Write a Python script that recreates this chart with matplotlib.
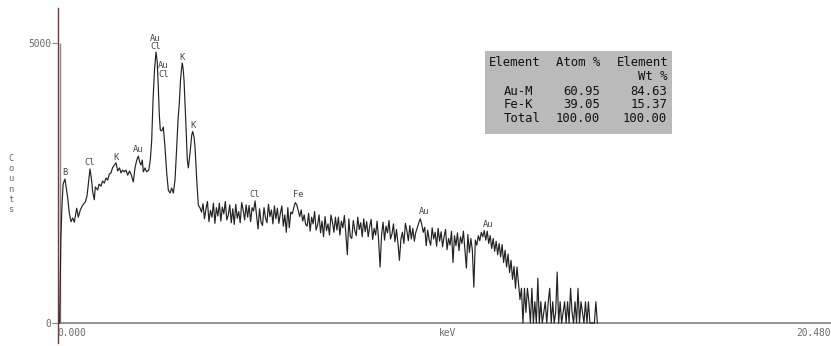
import numpy as np
import matplotlib.pyplot as plt
from matplotlib.patches import Rectangle

# low-energy part of the spectrum (keV, counts)
peak_kev = [0.016, 0.05, 0.08, 0.11, 0.16, 0.23, 0.277, 0.323, 0.368, 0.411,
            0.476, 0.519, 0.573, 0.637, 0.707, 0.753, 0.798, 0.833, 0.868, 0.906,
            0.949, 0.976, 1.04, 1.075, 1.129, 1.17, 1.218, 1.263, 1.309, 1.352,
            1.398, 1.438, 1.487, 1.532, 1.578, 1.626, 1.667, 1.707, 1.755, 1.80,
            1.847, 1.895, 1.935, 1.997, 2.043, 2.089, 2.132, 2.169, 2.204, 2.239,
            2.266, 2.312, 2.352, 2.411, 2.454, 2.492, 2.527, 2.567, 2.608, 2.640,
            2.669, 2.696, 2.723, 2.761, 2.804, 2.849, 2.895, 2.938, 2.984, 3.030,
            3.073, 3.118, 3.164, 3.199, 3.234, 3.266, 3.298, 3.315, 3.339, 3.360,
            3.406, 3.449, 3.476, 3.522, 3.567, 3.594, 3.629, 3.656, 3.702, 3.745,
            3.790, 3.831]
peak_counts = [0, 1500, 2100, 2480, 2570, 2255, 1960, 1810, 1875, 1800,
               2050, 1890, 2020, 2105, 2160, 2270, 2550, 2750, 2590, 2340,
               2200, 2430, 2375, 2480, 2445, 2535, 2500, 2590, 2550, 2660,
               2680, 2770, 2820, 2860, 2715, 2770, 2680, 2730, 2700, 2730,
               2640, 2715, 2660, 2520, 2770, 2910, 2980, 2875, 2820, 2910,
               2700, 2770, 2700, 2730, 2910, 3270, 3980, 4520, 4840, 4660,
               4215, 3715, 3445, 3430, 3500, 3140, 2680, 2375, 2320, 2410,
               2320, 2555, 3140, 3625, 3930, 4340, 4570, 4640, 4520, 4340,
               3625, 2910, 2770, 3035, 3355, 3420, 3320, 3140, 2555, 2105,
               2055, 1980]

# background and high-energy lines, 40 eV channels from 3.87 keV
channel_kev = 0.04
bg_start_kev = 3.87
bg_counts = [2130, 1860, 2040, 2170, 1810, 2010, 1890, 2140, 1780, 2060,
             1910, 2140, 1820, 2070, 1950, 2170, 1840, 1930, 2110, 1790,
             2040, 1760, 2120, 1870, 1990, 1790, 2150, 2020, 1840, 2110,
             1890, 2100, 1810, 2060, 2000, 2180, 1920, 1680, 2040, 1800,
             1740, 2060, 1880, 1790, 2120, 1900, 2020, 1770, 2090, 1860,
             2050, 1780, 1960, 2090, 1730, 1930, 1620, 2060, 1700, 1980,
             1950, 2060, 2150, 2110, 2010, 1900, 2020, 1820, 1930, 1760,
             1730, 1960, 1640, 1890, 1770, 1990, 1660, 1750, 1930, 1610,
             1820, 1540, 1900, 1650, 1770, 1570, 1930, 1800, 1620, 1890,
             1660, 1890, 1570, 1820, 1700, 1920, 1590, 1220, 1860, 1540,
             1510, 1830, 1650, 1560, 1890, 1670, 1790, 1540, 1860, 1630,
             1810, 1540, 1720, 1850, 1490, 1690, 1570, 1820, 1480, 1000,
             1570, 1800, 1480, 1730, 1610, 1830, 1500, 1590, 1770, 1450,
             1670, 1430, 1120, 1500, 1620, 1420, 1780, 1650, 1470, 1740,
             1500, 1690, 1460, 1620, 1700, 1790, 1860, 1760, 1620, 1710,
             1380, 1660, 1480, 1390, 1700, 1500, 1620, 1370, 1690, 1460,
             1630, 1360, 1540, 1670, 1310, 1510, 1390, 1640, 1080, 1560,
             1380, 1610, 1290, 1540, 1420, 1640, 1310, 980, 1580, 1260,
             1510, 1300, 640, 1480, 1390, 1560, 1470, 1620, 1540, 1650,
             1480, 1640, 1420, 1560, 1330, 1510, 1280, 1460, 1220, 1420,
             1180, 1400, 1080, 1300, 1000, 1230, 900, 1120, 780, 1010,
             620, 1000, 700, 420]
# sparse counts above ~12.4 keV
tail_counts = [620, 0, 620, 190, 620, 380, 0, 620,
               0, 380, 0, 800, 0, 380, 0, 190,
               380, 0, 380, 620, 0, 380, 0, 190,
               910, 0, 380, 0, 190, 380, 0, 380,
               0, 620, 190, 0, 380, 0, 620, 0,
               380, 190, 0, 380, 0, 380, 0, 0,
               0, 0, 380, 0]

# peak identifications
label_text = ["B", "Cl", "K", "Au", "Au\nCl", "Au\nCl", "K", "K", "Cl", "Fe", "Au", "Au"]
label_kev = [0.16, 0.83, 1.53, 2.12, 2.59, 2.80, 3.31, 3.60, 5.27, 6.42, 9.81, 11.53]
label_counts = [2680, 2875, 2950, 3090, 5010, 4520, 4750, 3535, 2300, 2300, 2000, 1760]

# quantification result
elements = ["Au-M", "Fe-K", "Total"]
atom_pct = [60.95, 39.05, 100.00]
wt_pct = [84.63, 15.37, 100.00]

W, H = 831, 346
def px(x, y):
    return x / W, 1 - y / H

mono = "DejaVu Sans Mono"
grey = "#6a6a6a"

fig = plt.figure(figsize=(W / 100, H / 100), dpi=100)
ax = fig.add_axes([58 / W, 3 / H, (W - 58) / W, 335 / H])
ax.set_xlim(-0.027, 20.75)
ax.set_ylim(-357, 5625)
for s in ["top", "right", "bottom"]:
    ax.spines[s].set_visible(False)
ax.spines["left"].set_color("#7b3535")
ax.spines["left"].set_linewidth(1.0)

ax.axhline(0, color="#8a8a8a", lw=1.3, zorder=1)
ax.vlines(0.03, 0, 5000, color="#8a8a8a", lw=1.0, zorder=1)

bg_kev = bg_start_kev + channel_kev * np.arange(len(bg_counts))
tail_kev = bg_kev[-1] + channel_kev * (1 + np.arange(len(tail_counts)))

energy = np.concatenate([peak_kev, bg_kev, tail_kev])
counts = np.concatenate([peak_counts, bg_counts, tail_counts])
ax.plot(energy, counts, color="#222222", lw=0.85, zorder=3)

for t, e, c in zip(label_text, label_kev, label_counts):
    ax.text(e, c, t, ha="center", va="center", fontsize=6.3, family=mono,
            color="#444444", linespacing=0.95)

ax.set_xticks([])
ax.set_yticks([0, 5000])
ax.set_yticklabels(["0", "5000"], family=mono, fontsize=6.9, color=grey)
ax.tick_params(axis="y", length=4, width=0.8, color="#8a8a8a", pad=1)

ax.text(-0.04, -180, "0.000", ha="left", va="center", family=mono, fontsize=6.9, color=grey)
ax.text(10.43, -180, "keV", ha="center", va="center", family=mono, fontsize=6.9, color=grey)
ax.text(20.74, -180, "20.480", ha="right", va="center", family=mono, fontsize=6.9, color=grey)

fig.text(*px(11, 184), "\n".join("Counts"), ha="center", va="center", family=mono,
         fontsize=6.3, color=grey, linespacing=1.15)

# results table
x0, y0 = px(485, 134)
x1, y1 = px(672, 51)
fig.patches.append(Rectangle((x0, y0), x1 - x0, y1 - y0, transform=fig.transFigure,
                             facecolor="#bababa", edgecolor="none", zorder=0))
tk = dict(family=mono, fontsize=8.8, color="#111111", va="center")
fig.text(*px(489, 63), "Element", ha="left", **tk)
fig.text(*px(600, 63), "Atom %", ha="right", **tk)
fig.text(*px(669, 63), "Element", ha="right", **tk)
fig.text(*px(667, 77), "Wt %", ha="right", **tk)
for i, (el, a, w) in enumerate(zip(elements, atom_pct, wt_pct)):
    yy = 91 + 14 * i
    fig.text(*px(504, yy), el, ha="left", **tk)
    fig.text(*px(600, yy), "{:.2f}".format(a), ha="right", **tk)
    fig.text(*px(667, yy), "{:.2f}".format(w), ha="right", **tk)

fig.savefig("out.png", dpi=100)
plt.close(fig)
